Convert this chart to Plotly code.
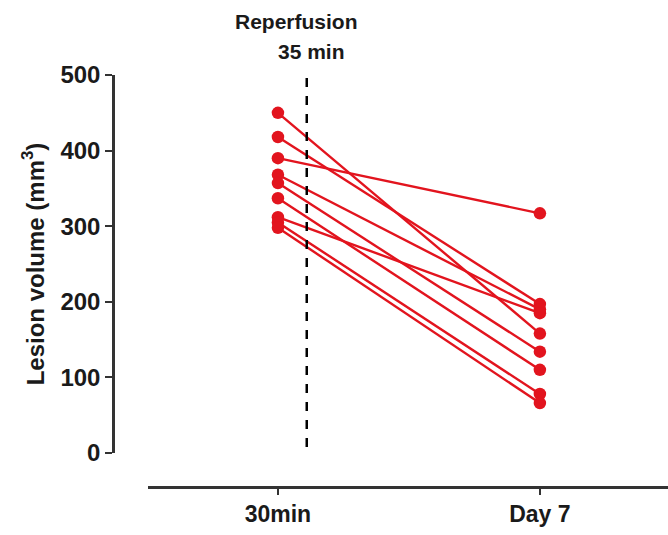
import plotly.graph_objects as go

time_labels = ["30min", "Day 7"]
time_pos = [0, 1]
vol_30min = [450, 418, 390, 368, 357, 337, 312, 305, 298]
vol_day7 = [158, 197, 317, 190, 134, 110, 185, 78, 66]
y_ticks = [0, 100, 200, 300, 400, 500]
reperfusion_x = 0.11

RED = "rgb(226,20,30)"
FONT = "Liberation Sans, Arial, sans-serif"
TXT = "#1a1a1a"

fig = go.Figure()
for a, b in zip(vol_30min, vol_day7):
    fig.add_trace(go.Scatter(
        x=time_pos, y=[a, b], mode="lines+markers",
        line=dict(color=RED, width=2.4),
        marker=dict(color=RED, size=12.5),
        showlegend=False, hoverinfo="skip", cliponaxis=False))

fig.add_shape(type="line", xref="x", yref="y", x0=reperfusion_x, x1=reperfusion_x,
              y0=-16, y1=500, line=dict(color="black", width=2.5, dash="dash"))

fig.add_annotation(text="<b>Reperfusion</b>", xref="paper", yref="paper",
                   x=(296 - 113) / 555, y=(487 - 21) / 412, showarrow=False,
                   xanchor="center", yanchor="middle",
                   font=dict(family=FONT, size=21, color=TXT))
fig.add_annotation(text="<b>35 min</b>", xref="paper", yref="paper",
                   x=(311 - 113) / 555, y=(487 - 52) / 412, showarrow=False,
                   xanchor="center", yanchor="middle",
                   font=dict(family=FONT, size=21, color=TXT))

fig.update_layout(
    width=668, height=535,
    margin=dict(l=113, r=0, t=75, b=48),
    paper_bgcolor="white", plot_bgcolor="white",
    xaxis=dict(domain=[(148 - 113) / 555, 1], anchor="free", position=0,
               range=[-0.496, 1.489], tickvals=time_pos,
               ticktext=["<b>%s</b>" % t for t in time_labels],
               showline=True, linecolor="#333", linewidth=2.5,
               ticks="outside", ticklen=6, tickwidth=2, tickcolor="#333",
               showgrid=False, zeroline=False, automargin=False,
               tickfont=dict(family=FONT, size=23, color=TXT)),
    yaxis=dict(domain=[(487 - 453) / 412, 1], anchor="free", position=0,
               range=[0, 500], tickvals=y_ticks,
               ticktext=["<b>%d</b>" % v for v in y_ticks],
               showline=True, linecolor="#333", linewidth=2.5,
               ticks="outside", ticklen=7, tickwidth=2, tickcolor="#333",
               showgrid=False, zeroline=False, automargin=False,
               tickfont=dict(family=FONT, size=24, color=TXT),
               title=dict(text="<b>Lesion volume (mm<sup>3</sup>)</b>",
                          font=dict(family=FONT, size=24, color=TXT), standoff=8)),
)

fig.write_html("out.html", config={"displayModeBar": False},
               post_script="document.body.style.margin='0';document.body.style.padding='0';")
